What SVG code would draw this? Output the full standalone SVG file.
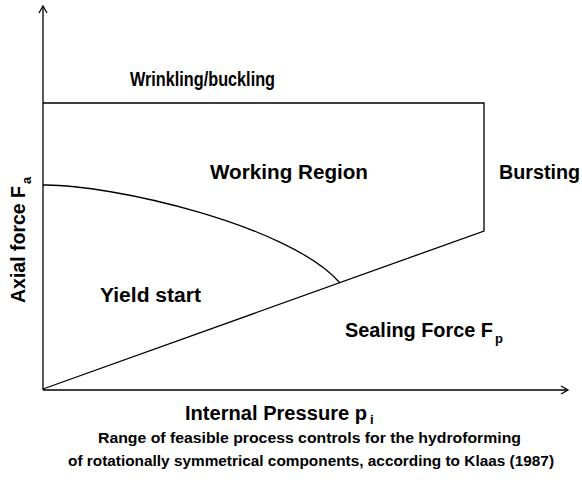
<svg xmlns="http://www.w3.org/2000/svg" width="582" height="482" viewBox="0 0 582 482">
<style>
.t{font-family:"Liberation Sans",Arial,sans-serif;font-weight:bold;fill:#000}
.l{font-size:20px}
.c{font-size:15px}
.s{font-size:13px}
.ln{fill:none;stroke:#000;stroke-width:1.3}
</style>
<defs>
<marker id="ar" markerWidth="10" markerHeight="10" refX="8" refY="5" orient="auto" markerUnits="userSpaceOnUse">
<path d="M1,1 L8,5 L1,9" fill="none" stroke="#000" stroke-width="1.3"/>
</marker>
</defs>
<rect width="582" height="482" fill="#fff"/>
<g id="axes">
<line class="ln" x1="43" y1="390" x2="43" y2="6" marker-end="url(#ar)"/>
<line class="ln" x1="43" y1="390" x2="568" y2="390" marker-end="url(#ar)"/>
</g>
<g id="connectors">
<polyline class="ln" points="43,103 484,103 484,231 43,389"/>
<path class="ln" d="M43,185 C110,184 290,225 340,283"/>
</g>
<g id="wrinkling"><text class="t l" x="130" y="86" textLength="145" lengthAdjust="spacingAndGlyphs">Wrinkling/buckling</text></g>
<g id="working"><text class="t l" x="210" y="179" textLength="158" lengthAdjust="spacingAndGlyphs">Working Region</text></g>
<g id="bursting"><text class="t l" x="499" y="179" textLength="81" lengthAdjust="spacingAndGlyphs">Bursting</text></g>
<g id="yield"><text class="t l" x="100" y="302" textLength="101" lengthAdjust="spacingAndGlyphs">Yield start</text></g>
<g id="sealing"><text class="t l" x="345" y="337" textLength="148" lengthAdjust="spacingAndGlyphs">Sealing Force F</text><text class="t s" x="495" y="343">p</text></g>
<g id="xlabel"><text class="t l" x="185" y="420" textLength="182" lengthAdjust="spacingAndGlyphs">Internal Pressure p</text><text class="t s" x="370" y="424">i</text></g>
<g id="ylabel"><g transform="translate(25,303) rotate(-90)"><text class="t l" x="0" y="0" textLength="117" lengthAdjust="spacingAndGlyphs">Axial force F</text><text class="t s" x="119" y="6">a</text></g></g>
<g id="caption">
<text class="t c" x="98" y="443" textLength="423" lengthAdjust="spacingAndGlyphs">Range of feasible process controls for the hydroforming</text>
<text class="t c" x="68" y="466" textLength="486" lengthAdjust="spacingAndGlyphs">of rotationally symmetrical components, according to Klaas (1987)</text>
</g>
</svg>
